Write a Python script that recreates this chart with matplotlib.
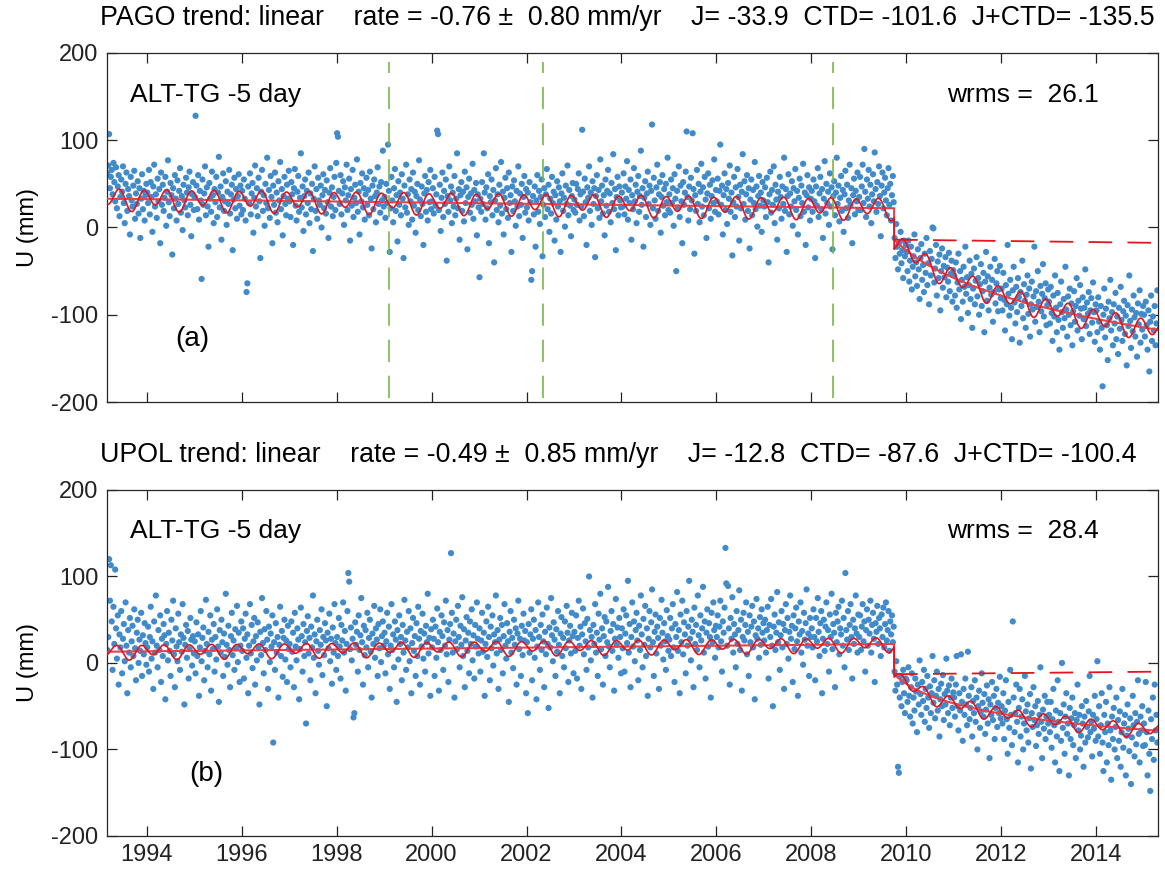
import numpy as np
import matplotlib
matplotlib.use('Agg')
import matplotlib.pyplot as plt

plt.rcParams['font.family'] = ['Liberation Sans', 'DejaVu Sans']
plt.rcParams['lines.scale_dashes'] = False
plt.rcParams['axes.unicode_minus'] = False

# ---------------- data ----------------
# time segments (decimal years); each list of values below is spread evenly over its segment
seg_edges = [1993.16, 1994, 1995, 1996, 1997, 1998, 1999, 2000, 2001, 2002, 2003, 2004,
             2005, 2006, 2007, 2008, 2009, 2009.745, 2010, 2011, 2012, 2013, 2014, 2015, 2015.3]
t_eq = 2009.745
x_ticks = [1994, 1996, 1998, 2000, 2002, 2004, 2006, 2008, 2010, 2012, 2014]
y_ticks = [-200, -100, 0, 100, 200]

# PAGO  U (mm), one list per time segment
pago_u = [
    [62, 71, 107, 45, 58, 66, 38, 74, 52, 30, 69, 22, 47, 60, 13, 35, 55, 41, 70, 28, 5, 50, 63, 19, 44, 36, -8, 58, 31, 24, 48, 65, 10, 39, 27, 53, 16, 45, -12, 33, 61, 21, 42, 8, 37, 50],
    [40, 28, 66, 15, 52, 35, -5, 47, 72, 24, 38, 11, 56, 30, 44, -18, 63, 26, 49, 19, 34, 58, 2, 41, 77, 29, 13, 51, 37, -31, 45, 22, 60, 33, 8, 54, 27, 42, 68, 17, 36, -3, 49, 31, 23, 57, 40, 14, 46, 64, 26, -10, 38, 52, 20],
    [35, 128, 48, 21, 60, 9, 42, 31, -59, 55, 26, 39, 70, 14, 46, 24, -22, 51, 33, 18, 64, 37, 5, 44, 29, 58, 12, 40, 81, 23, 47, -14, 35, 62, 19, 30, 53, 3, 41, 27, 66, 16, 38, 49, -26, 32, 57, 22, 44, 10, 36, 61, 25, 48, 15],
    [42, 20, 55, 33, 8, -74, -64, 47, 28, 62, 15, 39, 51, -6, 34, 71, 24, 45, 13, 57, 30, -35, 41, 66, 19, 37, 2, 50, 28, 80, 22, 43, 11, 59, 35, -18, 48, 26, 63, 17, 40, 6, 53, 31, 75, 21, 44, -9, 36, 58, 27, 14, 49, 33, 65],
    [30, 12, 52, 38, -20, 45, 67, 25, 8, 41, 59, 18, 34, 85, 23, 47, -4, 36, 55, 15, 42, 28, 63, 5, 39, 21, 50, -27, 33, 70, 19, 44, 10, 57, 31, 26, 48, 0, 37, 61, 22, 43, 16, 54, 29, -12, 40, 68, 24, 46, 13, 35, 58, 20, 74],
    [108, 104, 42, 27, 60, 15, 39, 53, 3, 46, 31, 72, 20, 37, 56, -15, 44, 25, 66, 12, 34, 49, 28, 78, 18, 41, -8, 51, 30, 62, 23, 45, 9, 38, 57, 26, 43, 14, 64, 33, -24, 48, 21, 55, 36, 6, 40, 69, 27, 47, 17, 52, 31, 88, 24],
    [35, 11, 50, 28, 95, 42, -28, 22, 58, 31, 6, 45, 67, 19, 37, -16, 53, 26, 40, 14, 61, 33, -35, 48, 23, 72, 17, 38, 3, 55, 30, 44, 9, 63, 25, 41, -6, 36, 50, 20, 77, 32, 13, 47, 27, -20, 39, 59, 18, 43, 8, 52, 29, 66, 21],
    [30, 45, 16, 58, 25, 38, 111, 107, 20, 49, -4, 34, 63, 12, 42, 27, 55, -38, 36, 18, 70, 31, 47, 5, 40, 24, 59, 14, 33, 85, 22, 44, -14, 37, 52, 19, 41, 7, 64, 28, 46, -25, 35, 56, 17, 39, 26, 73, 10, 43, 30, 51, -9, 38, 23],
    [-57, 33, 18, 52, 27, 85, 40, 9, 46, 22, 61, -18, 36, 29, 55, 14, 43, -40, 31, 68, 20, 38, 6, 49, 25, 75, 16, 41, -8, 34, 57, 21, 45, 11, 63, 28, 37, -28, 47, 19, 54, 30, 2, 42, 24, 70, 13, 39, 26, 50, -12, 35, 59, 17, 44],
    [23, 40, 8, 52, 29, -60, -50, 36, 15, 47, -22, 31, 60, 18, 42, 4, 35, 55, -33, 26, 45, 12, 38, 67, 21, 49, -5, 33, 16, 58, 28, 41, -15, 37, 9, 53, 24, 46, 30, -28, 39, 62, 19, 34, 1, 48, 27, 71, 14, 43, 25, -10, 36, 51, 20],
    [32, 17, 50, 26, 44, 62, 8, 38, 24, 112, 41, 13, 56, 29, -20, 46, 34, 70, 19, 40, 3, 53, 27, 45, -34, 36, 60, 22, 43, 11, 78, 30, 48, 16, 37, -9, 55, 25, 42, 66, 18, 39, 6, 51, 28, 84, 21, 44, -26, 35, 58, 14, 47, 31, 23],
    [40, 24, 62, 15, 47, 33, 76, 9, 43, 28, 55, -14, 37, 21, 68, 30, 49, 5, 41, 59, 18, 36, 88, 26, 45, -22, 34, 53, 12, 39, 64, 27, 48, 3, 42, 118, 22, 57, 31, 10, 46, 72, 19, 38, 52, -6, 35, 60, 25, 44, 14, 50, 29, 80, 20],
    [38, 17, 55, 28, 45, 2, 61, 33, -50, 42, 23, 70, 12, 48, 30, -18, 52, 26, 40, 64, 110, 35, 8, 47, 21, 57, 31, 108, 44, -30, 37, 19, 66, 27, 50, 6, 41, 73, 24, 46, 14, 58, 32, -12, 39, 62, 22, 49, 10, 36, 54, 28, 78, 18, 43],
    [30, 56, 15, 42, 95, 26, 48, -8, 37, 62, 20, 44, 4, 51, 33, 71, 18, 40, -32, 29, 58, 12, 46, 24, 67, 35, -15, 49, 22, 41, 84, 27, 53, 9, 38, 60, 19, 45, -24, 32, 55, 14, 43, 28, 75, 21, 47, 1, 36, 59, 25, 40, -5, 52, 31],
    [24, 46, 12, 57, 29, -40, 38, 64, 17, 43, 26, 70, 5, 49, 32, -14, 41, 22, 58, 35, 10, 47, 27, 80, 19, 44, -28, 36, 61, 15, 39, 24, 53, 2, 45, 30, 67, 20, 42, -8, 34, 56, 13, 48, 28, 73, 18, 40, -20, 37, 60, 23, 46, 8, 33],
    [42, 18, 55, 30, -35, 47, 25, 68, 12, 39, 58, 21, 44, -12, 33, 76, 16, 50, 28, 41, 3, 62, 24, 46, -25, 36, 53, 14, 40, 80, 27, 48, 7, 34, 59, 19, 43, -5, 38, 65, 22, 49, 11, 31, 72, 26, 45, -18, 37, 56, 15, 42, 30, 63, 20],
    [35, 58, 20, 47, 72, 28, 90, 41, 12, 55, 33, 66, 24, 49, 5, 38, 61, 30, 86, 44, 18, 52, 27, 70, 36, -10, 48, 63, 22, 40, 57, 31, 14, 45, 68, 26, 50, 8, 37, 59, 29],
    [-12, -35, 4, -22, -48, -18, -30, -5, -41, -26, -58, -15, -33, -20],
    [-28, -50, -15, -62, -38, -22, -71, -45, -33, -8, -56, -40, -67, -25, -48, -82, -35, -19, -60, -43, -74, -30, -52, -12, -66, -41, -88, -27, -55, -36, 0, -1, -63, -47, -20, -78, -39, -58, -31, -95, -50, -24, -69, -44, -57, -34, -80, -46, -62, -29, -73, -53, -38, -85, -49],
    [-55, -78, -40, -92, -63, -30, -71, -50, -105, -60, -85, -45, -68, -22, -76, -57, -98, -66, -38, -82, -53, -115, -70, -47, -88, -61, -34, -79, -58, -100, -65, -42, -90, -73, -52, -120, -62, -28, -84, -56, -95, -69, -45, -77, -60, -108, -74, -36, -87, -64, -50, -96, -71, -44, -81],
    [-70, -95, -52, -83, -118, -66, -88, -20, -76, -101, -60, -92, -128, -72, -45, -86, -110, -68, -97, -58, -80, -132, -74, -90, -38, -104, -65, -84, -115, -77, -55, -99, -70, -125, -88, -62, -94, -79, -22, -108, -73, -91, -50, -85, -120, -67, -96, -76, -42, -102, -81, -64, -112, -89, -71],
    [-85, -110, -68, -98, -130, -78, -102, -55, -92, -120, -75, -106, -140, -88, -62, -97, -115, -82, -104, -45, -94, -125, -79, -100, -70, -112, -87, -135, -96, -73, -108, -90, -58, -118, -84, -101, -66, -93, -128, -80, -105, -92, -48, -113, -86, -99, -74, -122, -95, -81, -109, -63, -97, -131, -88],
    [-95, -120, -80, -108, -140, -90, -115, -182, -100, -70, -126, -93, -112, -152, -85, -104, -60, -118, -97, -135, -88, -110, -75, -128, -102, -145, -92, -116, -68, -106, -130, -96, -84, -122, -101, -158, -89, -113, -55, -107, -138, -94, -119, -78, -103, -125, -98, -148, -87, -111, -72, -132, -99, -117, -90],
    [-100, -125, -85, -112, -140, -95, -165, -108, -78, -130, -102, -118, -90, -135, -110, -72],
]

# UPOL  U (mm), one list per time segment
upol_u = [
    [15, 30, 120, 72, 113, 48, -8, 65, 22, 108, 40, 5, 55, -25, 33, 18, 60, -12, 28, 45, 2, 70, 20, -35, 38, 12, 52, -5, 25, 43, 8, 62, 17, -20, 35, 50, 0, 27, 14, 58, -15, 32, 10, 46, 23, -2],
    [18, 42, -10, 30, 65, 5, 25, -30, 48, 12, 78, 20, -5, 38, 15, 55, -22, 28, 8, 45, 32, -42, 22, 60, 3, 35, 14, -15, 50, 26, 72, 10, -28, 40, 19, 2, 57, 24, -8, 33, 13, 68, 29, -48, 21, 44, 6, 37, -18, 16, 52, 27, -3, 31, 11],
    [25, -12, 47, 8, 33, -38, 18, 60, 2, 29, 41, -20, 14, 73, 22, -5, 36, 10, 55, -32, 27, 16, 45, -10, 30, 4, 62, 19, -45, 38, 12, 50, 24, -15, 34, 7, 80, 21, -2, 43, 15, -28, 31, 58, 9, 26, -8, 39, 17, 66, 1, 35, -22, 20, 48],
    [14, 40, -18, 28, 57, 6, 33, -35, 20, 68, 11, 44, -6, 25, 52, -25, 31, 3, 47, 18, -48, 36, 9, 75, 23, -12, 39, 15, 60, 27, -30, 42, 1, 34, 19, 55, -92, 24, -8, 46, 12, 30, -40, 21, 65, 8, 37, -16, 29, 50, 4, 26, -22, 43, 16],
    [22, -5, 48, 13, 35, -28, 58, 19, 3, 40, 27, -42, 16, 64, 31, -10, 45, 8, 24, -70, 37, 54, 11, 29, -20, 42, 18, 78, 6, 33, -35, 25, 50, 14, -2, 38, 21, 62, -14, 30, 9, 46, 26, -50, 35, 17, 57, 2, 28, -24, 41, 12, 68, 23, -8],
    [30, 8, 52, 19, -18, 44, 26, 70, 12, 37, -32, 22, 60, 104, 94, 16, 41, 3, 28, -63, -58, 47, 21, 36, -10, 55, 15, 32, 75, 24, -25, 43, 9, 38, 18, 58, -5, 29, 50, 13, -40, 34, 22, 66, 6, 40, 27, -15, 45, 17, 62, 1, 31, 48, 20],
    [35, -12, 25, 58, 10, 42, -30, 20, 68, 15, 33, -5, 48, 27, -45, 38, 4, 55, 22, 30, -20, 44, 12, 73, 26, -8, 36, 18, 60, 2, 40, -35, 23, 52, 14, 31, -15, 46, 8, 65, 28, -25, 37, 19, 57, 5, 34, -10, 43, 24, 80, 11, 29, -38, 39],
    [18, 50, 28, -15, 42, 6, 63, 24, -32, 36, 15, 55, 31, -8, 47, 20, 72, 10, 38, -22, 27, 45, 127, 58, 12, 34, -40, 25, 50, 16, 66, 30, -5, 43, 21, 76, 8, 39, -28, 26, 53, 14, 35, -12, 48, 22, 62, 3, 32, -18, 44, 19, 70, 28, 11],
    [40, -10, 26, 58, 13, 35, -38, 22, 48, 7, 65, 30, -20, 42, 17, 55, -3, 33, 24, 78, 11, 38, -30, 27, 52, 15, 44, -12, 31, 68, 20, 5, 46, 25, -45, 36, 60, 12, 29, -6, 50, 21, 40, -25, 34, 72, 16, 28, -15, 43, 9, 57, 26, 37, -35],
    [24, -58, 45, 12, 33, 62, -20, 28, 50, 6, 38, -42, 19, 70, 30, -8, 44, 15, 56, 25, -28, 36, 10, 64, 22, -52, 41, 18, 75, 32, 2, 47, 27, -15, 39, 13, 60, 21, -35, 34, 53, 8, 29, -5, 48, 17, 66, 35, -22, 26, 43, 11, 58, 31, -12],
    [36, 14, 55, -18, 29, 72, 20, 42, -30, 33, 63, 10, 46, 25, -8, 51, 18, 100, 38, 3, 30, -40, 44, 22, 68, 12, 35, -15, 57, 27, 80, 16, 40, -25, 31, 53, 8, 48, 24, 88, 19, -5, 37, 60, 14, 45, -32, 28, 74, 21, 41, 6, 52, 30, -12],
    [40, 17, 62, -10, 34, 55, 23, 95, 12, 45, -28, 30, 70, 19, 48, 2, 38, 58, 26, -20, 43, 15, 78, 33, -5, 51, 21, 66, 8, 40, -38, 28, 60, 18, 47, 85, 24, -15, 36, 56, 11, 42, 29, -30, 52, 20, 73, 35, 4, 46, 25, -8, 61, 31, 14],
    [27, 52, 8, 40, 68, 18, -22, 45, 30, 82, 14, 38, -35, 56, 24, 72, 10, 47, 33, -12, 60, 20, 42, 95, 28, 3, 50, 36, -28, 64, 22, 44, 15, 78, 32, -5, 55, 26, 40, 88, 12, 48, -18, 35, 62, 19, 46, 30, -40, 58, 24, 70, 38, 6, 43],
    [30, 55, 18, 42, 72, 25, -10, 48, 35, 64, 133, 92, 20, 89, 40, -25, 52, 28, 76, 12, 45, 33, -5, 60, 22, 38, 84, 15, 50, -32, 30, 58, 26, 44, 70, 10, 36, -15, 55, 24, 42, 66, 18, 48, -42, 32, 74, 28, 40, 6, 53, 21, 62, 35, 46],
    [26, 50, 12, 38, 65, -18, 44, 30, 74, 20, -50, 42, 56, 15, 35, 82, 24, 47, -8, 32, 60, 18, 45, -30, 38, 68, 22, 52, 5, 36, 78, 28, 43, -22, 55, 16, 40, 64, 25, -38, 48, 33, 70, 12, 37, -2, 58, 27, 46, 85, 20, 34, -15, 52, 30],
    [40, 18, 62, 30, -20, 52, 25, 75, 36, 8, 46, 60, -35, 28, 50, 14, 42, 70, 22, 38, -10, 56, 30, 80, 16, 45, 35, -28, 58, 24, 48, 65, 10, 40, 33, 72, 20, 52, -5, 104, 38, 27, 60, 15, 44, 68, 30, -18, 50, 22, 40, 78, 34, 12, 56],
    [30, 55, 15, 42, 68, 25, 48, -10, 38, 62, 20, 50, 34, 72, 12, 44, 58, 28, -22, 46, 36, 66, 22, 52, 40, 8, 56, 30, 64, 18, 45, 70, 26, 38, 60, 14, 48, 33, 55, 24, 42],
    [-10, -32, 2, -25, -120, -127, -40, -15, -50, -22, -8, -35, -58, -18],
    [-20, -45, -5, -38, -62, -28, -12, -70, -40, -55, -18, -33, -80, -25, -48, 3, -36, -60, -22, -44, -8, -68, -30, -52, -15, -40, -75, -27, -58, -35, 8, -46, -20, -64, -38, -10, -55, -30, -85, -42, -24, -50, -14, -66, -36, -48, 5, -32, -58, -26, -72, -40, -18, -52, -34],
    [-40, -62, -25, 8, -50, -78, -35, -55, 10, -45, -90, -30, -60, -18, -48, -72, 13, -38, -65, -52, -28, -85, -44, -58, -20, -68, -40, -100, -50, -32, -75, -56, -12, -46, -62, -36, -82, -54, -26, -70, -42, -110, -48, -60, -22, -66, -38, -88, -52, -30, -74, -46, -58, -16, -64],
    [-50, -70, -35, -88, -55, -20, -65, -105, -45, -75, -8, -60, -95, 48, -40, -80, -58, -25, -68, -115, -52, -30, -85, -62, -42, -100, -70, -15, -56, -78, -48, -92, -64, -36, -122, -58, -74, -28, -66, -50, -96, -72, -44, -82, -60, -5, -68, -110, -54, -76, -38, -88, -62, -45, -70],
    [-60, -80, -45, -98, -65, -30, -72, -115, -55, -85, -20, -68, -125, -58, -90, 0, -75, -48, -105, -62, -35, -82, -70, -130, -52, -88, -64, -40, -95, -72, -58, -110, -66, -25, -78, -60, -100, -84, -50, -70, -120, -62, -92, -44, -74, -86, -56, -15, -80, -68, -108, -60, -76, -38, -90],
    [-65, 2, -85, -50, -105, -72, -35, -92, -125, -60, -80, -45, -115, -70, -95, -28, -78, -135, -62, -88, -52, -100, -74, -40, -110, -66, -90, -56, -120, -80, -30, -98, -70, -60, -130, -84, -48, -76, -102, -64, -140, -86, -38, -72, -108, -58, -94, -68, -20, -82, -115, -62, -78, -50, -96],
    [-70, -95, -22, -80, -130, -55, -105, -148, -65, -88, -40, -112, -25, -78, -60, -92],
]

# fitted model parameters:
# [offset at start, rate mm/yr, jump, post-seismic amplitude, decay time (yr),
#  annual amp, annual phase, semiannual amp, semiannual phase]
pago_fit = [33.0, -0.66, -36.0, -53.0, 1.0, 4.0, 0.20, 10.5, 0.43]
upol_fit = [13.0, 0.54, -35.0, -27.4, 0.5, 3.0, 0.14, 7.0, 0.38]

pago_breaks = [1999.1, 2002.35, 2008.45]   # green dashed lines (panel a)

pago_title = 'PAGO trend: linear    rate = -0.76 \u00b1  0.80 mm/yr    J= -33.9  CTD= -101.6  J+CTD= -135.5'
upol_title = 'UPOL trend: linear    rate = -0.49 \u00b1  0.85 mm/yr    J= -12.8  CTD= -87.6  J+CTD= -100.4'
pago_wrms = 'wrms =  26.1'
upol_wrms = 'wrms =  28.4'

# ---------------- helpers ----------------
DOT = '#418BCB'
RED = '#E3151E'
RED_TREND = '#E4434C'
GREEN = '#7AB648'


def seg_times(values):
    ts, ys = [], []
    for i, vals in enumerate(values):
        lo, hi = seg_edges[i], seg_edges[i + 1]
        n = len(vals)
        ts.extend(lo + (np.arange(n) + 0.5) * (hi - lo) / n)
        ys.extend(vals)
    return np.array(ts), np.array(ys, dtype=float)


def trend(t, p, after):
    y = p[0] + p[1] * (t - seg_edges[0])
    if after:
        y = y + p[2] + p[3] * np.log1p((t - t_eq) / p[4])
    return y


def seasonal(t, p):
    return p[5] * np.cos(2 * np.pi * (t - p[6])) + p[7] * np.cos(4 * np.pi * (t - p[8]))


def draw_panel(ax, values, p, label, wrms, breaks=None):
    t, y = seg_times(values)
    ax.scatter(t, y, s=20, color=DOT, edgecolors='none', zorder=2)

    t_pre = np.append(np.linspace(seg_edges[0], t_eq, 2000), t_eq)
    t_post = np.linspace(t_eq, seg_edges[-1], 800)
    tt = np.concatenate([t_pre, t_post])
    tr = np.concatenate([trend(t_pre, p, False), trend(t_post, p, True)])
    ax.plot(tt, tr, color=RED_TREND, lw=1.5, zorder=3)
    ax.plot(tt, tr + seasonal(tt, p), color=RED, lw=1.2, zorder=4)
    # jump level continued without post-seismic term
    ax.plot(t_post, trend(t_post, p, False) + p[2], color=RED, lw=1.3,
            dashes=(17, 11), zorder=3)

    if breaks:
        for b in breaks:
            ax.plot([b, b], [-195, 190], color=GREEN, lw=1.2, dashes=(16, 10), zorder=3)

    ax.set_xlim(seg_edges[0], seg_edges[-1])
    ax.set_ylim(-200, 200)
    ax.set_xticks(x_ticks)
    ax.set_yticks(y_ticks)
    ax.tick_params(direction='in', top=True, right=True, length=7, width=0.9,
                   labelsize=17, colors='#222222', pad=6)
    for s in ax.spines.values():
        s.set_linewidth(0.9)
        s.set_color('#262626')
    ax.set_ylabel('U (mm)', fontsize=17, labelpad=9)
    ax.text(1993.64, 152, 'ALT-TG -5 day', fontsize=19, va='center', ha='left')
    ax.text(2010.85, 152, wrms, fontsize=19, va='center', ha='left')
    ax.text(label[1], -128, label[0], fontsize=20, va='center', ha='left')


fig = plt.figure(figsize=(11.65, 8.77), dpi=100)
ax1 = fig.add_axes([0.0918, 0.5416, 0.902, 0.398])
ax2 = fig.add_axes([0.0918, 0.0468, 0.902, 0.3945])

draw_panel(ax1, pago_u, pago_fit, ('(a)', 1994.6), pago_wrms, pago_breaks)
draw_panel(ax2, upol_u, upol_fit, ('(b)', 1994.9), upol_wrms)
ax1.set_xticklabels([])

fig.text(0.086, 0.979, pago_title, fontsize=19.3, ha='left', va='center')
fig.text(0.086, 0.481, upol_title, fontsize=19.3, ha='left', va='center')

fig.savefig('out.png', dpi=100)
